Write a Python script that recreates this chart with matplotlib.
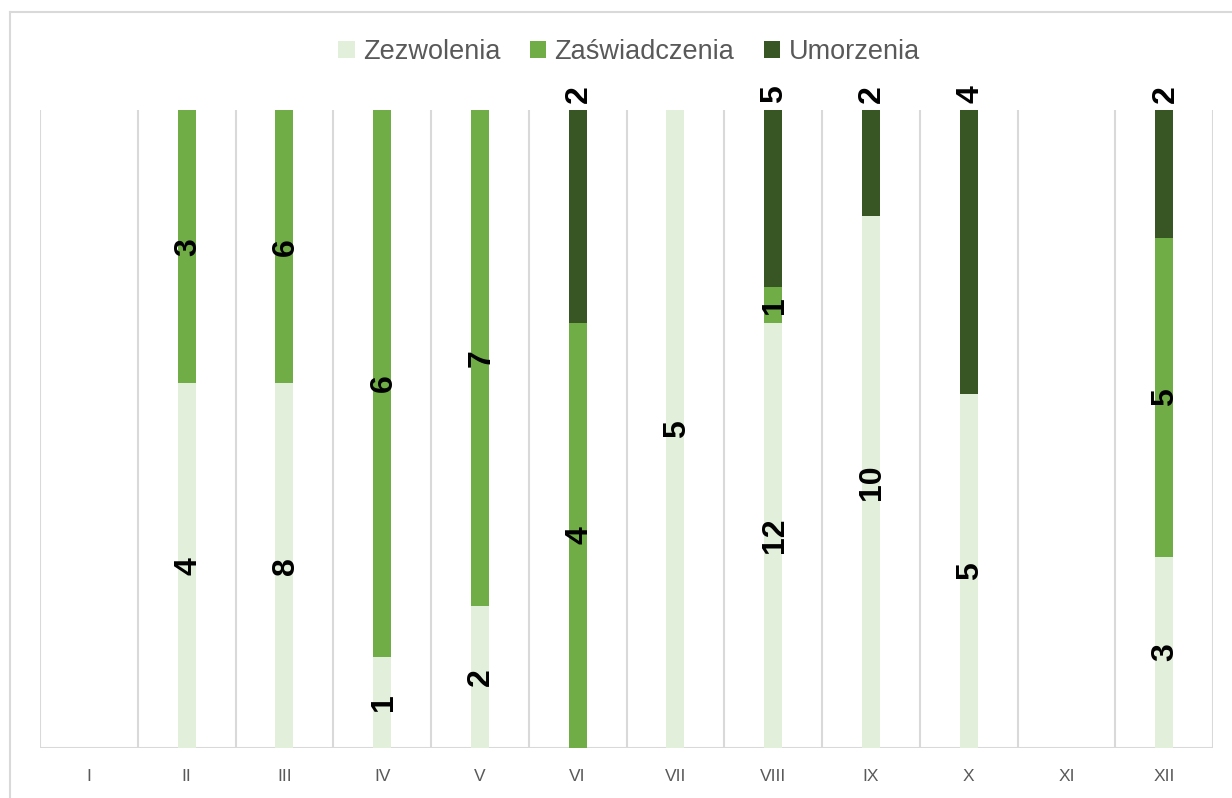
import numpy as np
import matplotlib
matplotlib.use("Agg")
import matplotlib.pyplot as plt
from matplotlib.lines import Line2D

months = ["I", "II", "III", "IV", "V", "VI", "VII", "VIII", "IX", "X", "XI", "XII"]
zezwolenia = [0, 4, 8, 1, 2, 0, 5, 12, 10, 5, 0, 3]
zaswiadczenia = [0, 3, 6, 6, 7, 4, 0, 1, 0, 0, 0, 5]
umorzenia = [0, 0, 0, 0, 0, 2, 0, 5, 2, 4, 0, 2]

series = [("Zezwolenia", zezwolenia, "#E2EFDA"),
          ("Zaświadczenia", zaswiadczenia, "#70AD47"),
          ("Umorzenia", umorzenia, "#375623")]

plt.rcParams['font.family'] = ['Liberation Sans', 'DejaVu Sans']

W, H = 1232, 798
fig = plt.figure(figsize=(W / 100, H / 100), dpi=100)
ax = fig.add_axes([40 / W, 1 - 748 / H, 1173 / W, 638 / H])

x = np.arange(len(months))
totals = np.array(zezwolenia) + np.array(zaswiadczenia) + np.array(umorzenia)
safe = np.where(totals == 0, 1, totals)
bottom = np.zeros(len(months))
for name, vals, color in series:
    vals = np.array(vals)
    share = vals / safe
    ax.bar(x, share, 0.185, bottom=bottom, color=color, label=name, zorder=2)
    for i in range(len(months)):
        if vals[i] == 0:
            continue
        if name == "Umorzenia":
            ax.annotate(str(vals[i]), (x[i], 1.0), xytext=(1, 5), textcoords="offset points",
                        rotation=90, ha="center", va="bottom", fontsize=23,
                        fontweight="bold", color="black", annotation_clip=False)
        else:
            ax.annotate(str(vals[i]), (x[i], bottom[i] + share[i] / 2), xytext=(1, 0),
                        textcoords="offset points", rotation=90, ha="center", va="center",
                        fontsize=23, fontweight="bold", color="black", zorder=3)
    bottom = bottom + share

ax.set_xlim(-0.5, 11.5)
ax.set_ylim(0, 1)
for b in np.arange(-0.5, 12, 1):
    ax.axvline(b, color="#D9D9D9", lw=1.5, zorder=1)
ax.axhline(0, color="#D9D9D9", lw=1.5, zorder=1)
for s in ax.spines.values():
    s.set_visible(False)
ax.set_yticks([])
ax.set_xticks(x)
ax.set_xticklabels(months, color="#595959", fontsize=12.5)
ax.tick_params(axis="x", length=0, pad=15)

ax.legend(loc="center", bbox_to_anchor=(629 / W, 1 - 52 / H), bbox_transform=fig.transFigure,
          ncol=3, frameon=False, fontsize=19.5, labelcolor="#595959",
          handlelength=0.6, handleheight=0.6, handletextpad=0.3, columnspacing=1.1)

# chart area border (only top and left edges visible in the crop)
fig.add_artist(Line2D([10 / W, 1.0], [1 - 12 / H, 1 - 12 / H], transform=fig.transFigure,
                      color="#D9D9D9", lw=1.5))
fig.add_artist(Line2D([10 / W, 10 / W], [0.0, 1 - 12 / H], transform=fig.transFigure,
                      color="#D9D9D9", lw=1.5))

fig.savefig("out.png", dpi=100)
